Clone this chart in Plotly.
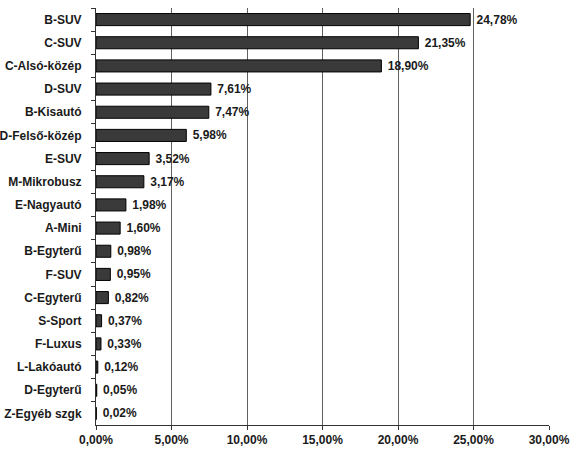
import plotly.graph_objects as go

categories = ['B-SUV', 'C-SUV', 'C-Alsó-közép', 'D-SUV', 'B-Kisautó', 'D-Felső-közép',
              'E-SUV', 'M-Mikrobusz', 'E-Nagyautó', 'A-Mini', 'B-Egyterű', 'F-SUV',
              'C-Egyterű', 'S-Sport', 'F-Luxus', 'L-Lakóautó', 'D-Egyterű', 'Z-Egyéb szgk']
shares = [24.78, 21.35, 18.90, 7.61, 7.47, 5.98, 3.52, 3.17, 1.98, 1.60,
          0.98, 0.95, 0.82, 0.37, 0.33, 0.12, 0.05, 0.02]
tick_vals = [0, 5, 10, 15, 20, 25, 30]
tick_text = ['0,00%', '5,00%', '10,00%', '15,00%', '20,00%', '25,00%', '30,00%']

# comma decimals, small gap before the value
labels = ['\u00a0' + f'{v:.2f}'.replace('.', ',') + '%' for v in shares]

font = dict(family='Liberation Sans, Arial, sans-serif', size=12, color='#1a1a1a', weight='bold')

fig = go.Figure(go.Bar(
    x=shares, y=categories, orientation='h',
    marker=dict(color='#3a3a3a', line=dict(color='#000000', width=1)),
    text=labels, textposition='outside', cliponaxis=False, constraintext='none',
    textfont=font, width=0.52, hoverinfo='skip',
))

fig.update_layout(
    width=572, height=467,
    margin=dict(l=96, r=23, t=8, b=42),
    plot_bgcolor='white', paper_bgcolor='white',
    font=font, showlegend=False,
    xaxis=dict(range=[0, 30], tickvals=tick_vals, ticktext=tick_text, automargin=False,
               showgrid=True, gridcolor='#606060', gridwidth=1,
               showline=True, linecolor='#333333', linewidth=1,
               ticks='outside', ticklen=4, tickcolor='#333333', zeroline=False),
    yaxis=dict(autorange='reversed', automargin=False,
               showline=True, linecolor='#333333', linewidth=1,
               ticks='outside', ticklen=4, tickcolor='#333333', tickson='boundaries',
               showgrid=False, ticklabelstandoff=11),
)

# drop the default page margin so the figure sits at the window's corner
fig.write_html('out.html', config={'displayModeBar': False},
               post_script="document.body.style.margin='0';document.body.style.overflow='hidden';")
